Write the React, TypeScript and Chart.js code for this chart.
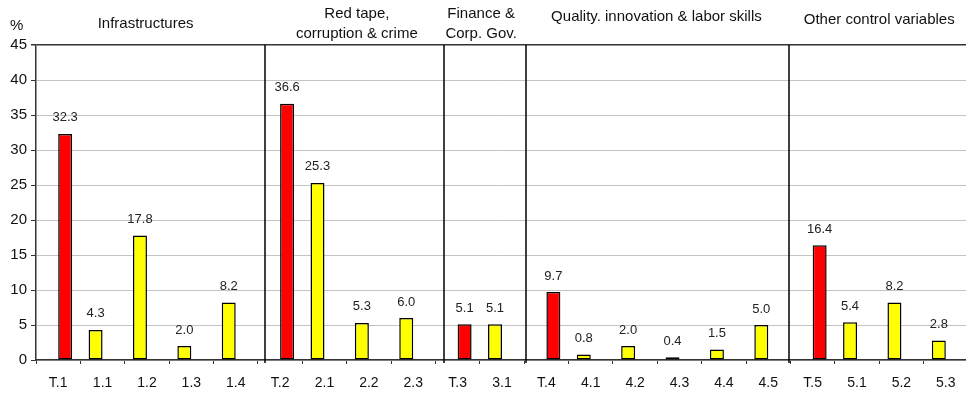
import React, { useEffect, useRef } from 'react';
import { Chart, registerables } from 'chart.js';

Chart.register(...registerables);

// Obstacle categories: "T.n" rows are group totals, the rest are components.
const categories = [
  'T.1', '1.1', '1.2', '1.3', '1.4',
  'T.2', '2.1', '2.2', '2.3',
  'T.3', '3.1',
  'T.4', '4.1', '4.2', '4.3', '4.4', '4.5',
  'T.5', '5.1', '5.2', '5.3',
];

// Share (%) for each category.
const shares = [
  32.3, 4.3, 17.8, 2.0, 8.2,
  36.6, 25.3, 5.3, 6.0,
  5.1, 5.1,
  9.7, 0.8, 2.0, 0.4, 1.5, 5.0,
  16.4, 5.4, 8.2, 2.8,
];

const groupTitles: string[][] = [
  ['Infrastructures'],
  ['Red tape,', 'corruption & crime'],
  ['Finance &', 'Corp. Gov.'],
  ['Quality. innovation & labor skills'],
  ['Other control variables'],
];

const yMin = 0;
const yMax = 45;
const yStep = 5;

const isTotal = (c: string) => c.startsWith('T.');
const componentValues = categories.map((c, i) => (isTotal(c) ? null : shares[i]));
const totalValues = categories.map((c, i) => (isTotal(c) ? shares[i] : null));

// Drawing layout for the group separators and headings (category-axis units / px).
const dividerAt = [4.67, 8.7, 10.53, 16.46];
const titleCenters = [1.97, 6.73, 9.53, 13.48, 18.5];
const titleBaselines: number[][] = [[28], [18, 38], [18, 38], [21], [24]];

const FONT = '"Liberation Sans", Arial, sans-serif';

const overlayPlugin = {
  id: 'overlay',
  afterDatasetsDraw(chart: any) {
    const { ctx, chartArea } = chart;
    const xs = chart.scales.x;
    ctx.save();

    // value labels above each bar
    ctx.font = `13px ${FONT}`;
    ctx.fillStyle = '#222';
    ctx.textAlign = 'center';
    ctx.textBaseline = 'middle';
    chart.data.datasets.forEach((ds: any, di: number) => {
      const meta = chart.getDatasetMeta(di);
      meta.data.forEach((bar: any, i: number) => {
        const v = ds.data[i];
        if (v === null || v === undefined) return;
        ctx.fillText(Number(v).toFixed(1), bar.x, bar.y - 16);
      });
    });

    // group separators
    ctx.strokeStyle = '#000';
    ctx.lineWidth = 1.5;
    dividerAt.forEach((v) => {
      const x = Math.round(xs.getPixelForValue(v));
      ctx.beginPath();
      ctx.moveTo(x, chartArea.top);
      ctx.lineTo(x, chartArea.bottom + 3);
      ctx.stroke();
    });

    // group headings
    ctx.font = `15px ${FONT}`;
    ctx.fillStyle = '#111';
    ctx.textBaseline = 'alphabetic';
    groupTitles.forEach((lines, g) => {
      const cx = xs.getPixelForValue(titleCenters[g]);
      lines.forEach((line, li) => {
        ctx.fillText(line, cx, titleBaselines[g][li]);
      });
    });

    // unit label
    ctx.textAlign = 'left';
    ctx.fillText('%', 10, 30);
    ctx.restore();
  },
};

export default function App() {
  const canvasRef = useRef<HTMLCanvasElement | null>(null);

  useEffect(() => {
    if (!canvasRef.current) return;
    const chart = new Chart(canvasRef.current, {
      type: 'bar',
      data: {
        labels: categories,
        datasets: [
          {
            label: 'Components',
            data: componentValues,
            backgroundColor: '#FFFF00',
            borderColor: '#000',
            borderWidth: 1.5,
            borderSkipped: false,
          },
          {
            label: 'Totals',
            data: totalValues,
            backgroundColor: '#FF0000',
            borderColor: '#000',
            borderWidth: 1.5,
            borderSkipped: false,
          },
        ],
      },
      options: {
        animation: false,
        responsive: true,
        maintainAspectRatio: false,
        layout: { padding: { top: 45, right: 0, left: 0, bottom: 0 } },
        datasets: {
          bar: { categoryPercentage: 0.63, barPercentage: 1 },
        },
        plugins: {
          legend: { display: false },
          tooltip: { enabled: false },
        },
        scales: {
          x: {
            offset: true,
            afterFit: (s: any) => {
              s.height = 34;
            },
            grid: {
              offset: true,
              drawOnChartArea: false,
              drawTicks: true,
              tickLength: 4,
              color: '#333',
            },
            border: { display: true, color: '#333', width: 1.5 },
            ticks: {
              color: '#111',
              font: { family: FONT, size: 14 },
              padding: 11,
              maxRotation: 0,
              autoSkip: false,
            },
          },
          y: {
            min: yMin,
            max: yMax,
            afterFit: (s: any) => {
              s.width = 36;
            },
            grid: {
              color: (c: any) => (c.tick && c.tick.value === yMax ? '#333' : '#c4c4c4'),
              lineWidth: (c: any) => (c.tick && c.tick.value === yMax ? 1.5 : 1),
              tickColor: '#333',
              tickLength: 5,
              drawTicks: true,
            },
            border: { display: true, color: '#333', width: 1.5 },
            ticks: {
              stepSize: yStep,
              color: '#111',
              font: { family: FONT, size: 15 },
              padding: 4,
            },
          },
        },
      },
      plugins: [overlayPlugin],
    });
    return () => chart.destroy();
  }, []);

  return (
    <div
      style={{
        position: 'fixed',
        left: 0,
        top: 0,
        width: 966,
        height: 394,
        overflow: 'hidden',
        background: '#fff',
      }}
    >
      <div style={{ position: 'relative', width: 968, height: 394 }}>
        <canvas ref={canvasRef} />
      </div>
    </div>
  );
}
